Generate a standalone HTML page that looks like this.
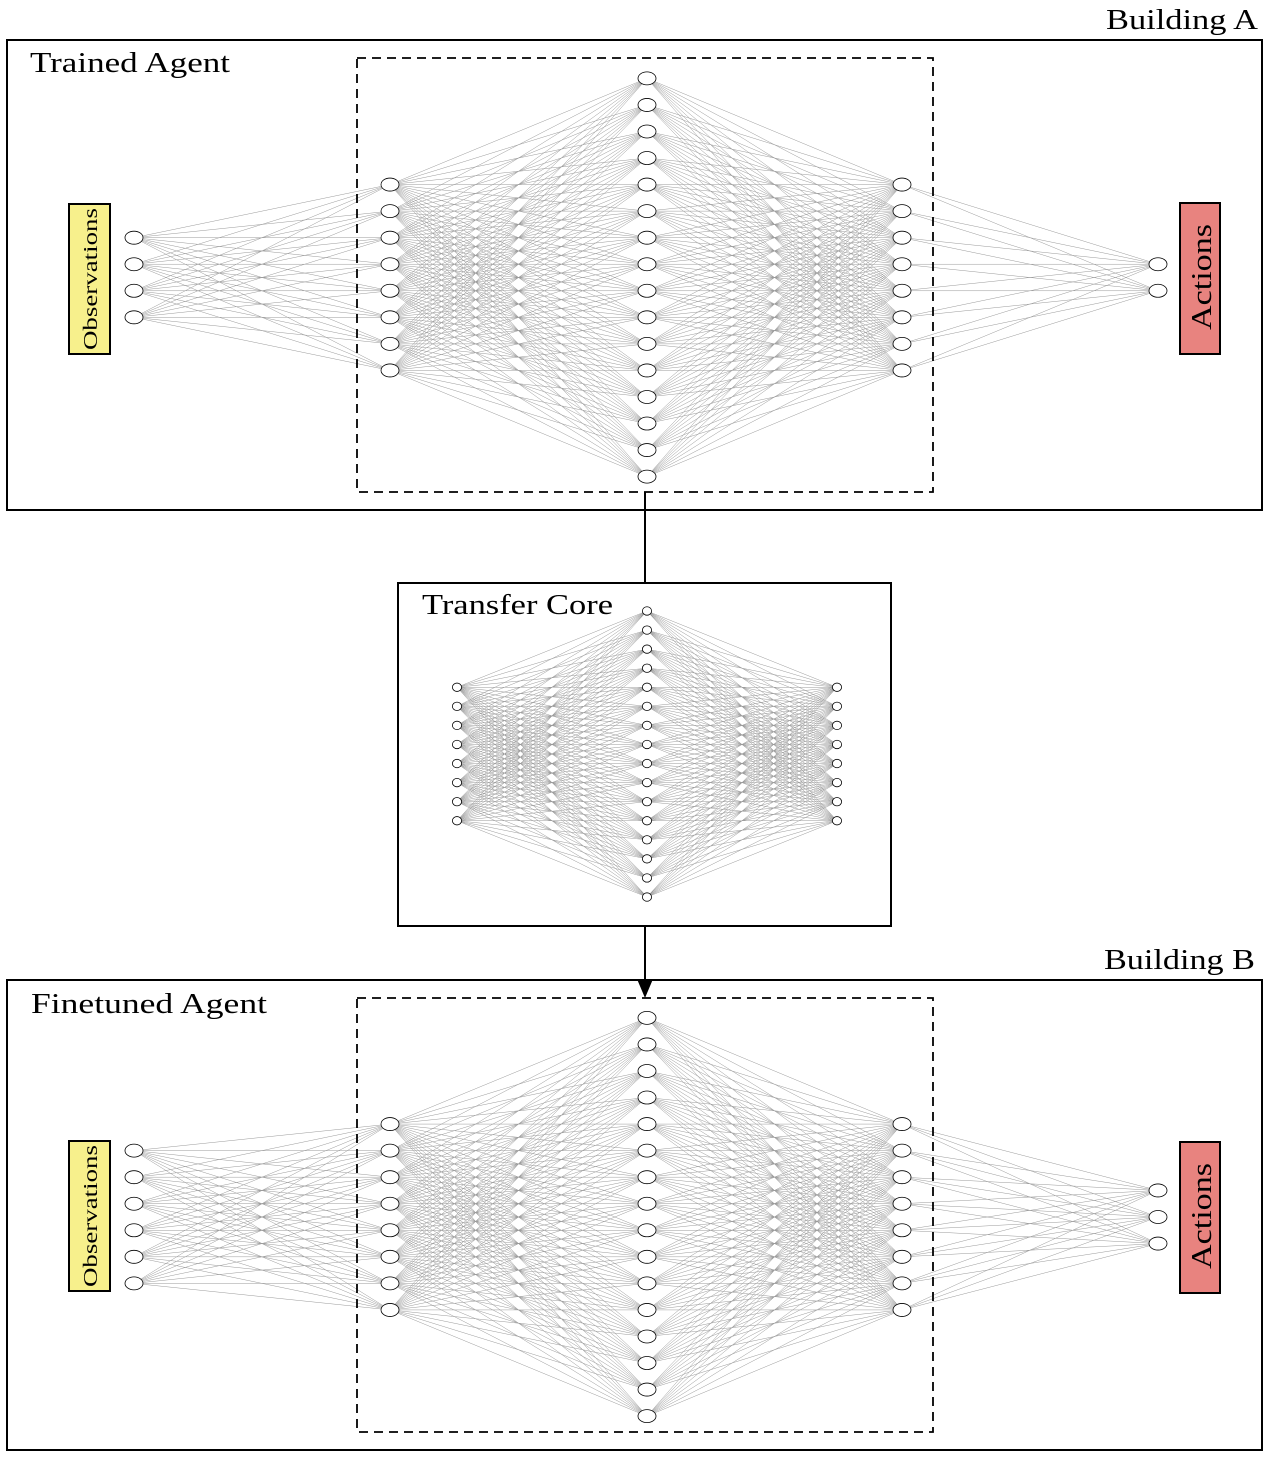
<!DOCTYPE html>
<html><head><meta charset="utf-8">
<style>
html,body{margin:0;padding:0;background:#fff;}
svg{display:block;}
text{font-family:"Liberation Serif",serif;fill:#000;}
</style></head>
<body>
<svg id="fig" width="1268" height="1458" viewBox="0 0 1268 1458" xmlns="http://www.w3.org/2000/svg">
<g id="edges"></g>
<g id="frames">
  <rect x="7" y="40" width="1255" height="470" fill="none" stroke="#000" stroke-width="2"/>
  <rect x="357" y="58" width="576" height="434" fill="none" stroke="#000" stroke-width="1.8" stroke-dasharray="9,6"/>
  <rect x="398" y="583" width="493" height="343" fill="none" stroke="#000" stroke-width="2"/>
  <rect x="7" y="980" width="1255" height="470" fill="none" stroke="#000" stroke-width="2"/>
  <rect x="357" y="998" width="576" height="434" fill="none" stroke="#000" stroke-width="1.8" stroke-dasharray="9,6"/>
  <line x1="645" y1="492" x2="645" y2="583" stroke="#000" stroke-width="2"/>
  <line x1="645" y1="926" x2="645" y2="982" stroke="#000" stroke-width="2"/>
  <polygon points="637,979 653,979 645,998" fill="#000"/>
  <rect x="69" y="204" width="41" height="150" fill="#f7f08c" stroke="#000" stroke-width="2"/>
  <rect x="1180" y="203" width="40" height="151" fill="#e8837f" stroke="#000" stroke-width="2"/>
  <rect x="69" y="1141" width="41" height="150" fill="#f7f08c" stroke="#000" stroke-width="2"/>
  <rect x="1180" y="1142" width="40" height="151" fill="#e8837f" stroke="#000" stroke-width="2"/>
</g>
<g id="nodes"></g>
<g>
  <text x="1106" y="29" font-size="28" textLength="152" lengthAdjust="spacingAndGlyphs">Building A</text>
  <text x="30" y="72" font-size="28" textLength="200" lengthAdjust="spacingAndGlyphs">Trained Agent</text>
  <text x="422" y="614" font-size="28" textLength="191" lengthAdjust="spacingAndGlyphs">Transfer Core</text>
  <text x="1104" y="969" font-size="28" textLength="151" lengthAdjust="spacingAndGlyphs">Building B</text>
  <text x="31" y="1013" font-size="28" textLength="236" lengthAdjust="spacingAndGlyphs">Finetuned Agent</text>
  <text transform="translate(97,350) rotate(-90)" font-size="20" textLength="142" lengthAdjust="spacingAndGlyphs">Observations</text>
  <text transform="translate(1211,330) rotate(-90)" font-size="29" textLength="106" lengthAdjust="spacingAndGlyphs">Actions</text>
  <text transform="translate(97,1287) rotate(-90)" font-size="20" textLength="142" lengthAdjust="spacingAndGlyphs">Observations</text>
  <text transform="translate(1211,1269) rotate(-90)" font-size="29" textLength="106" lengthAdjust="spacingAndGlyphs">Actions</text>
</g>
</svg>
<script>
// layer sizes per network
const layersA = [4, 8, 16, 8, 2];
const layersB = [6, 8, 16, 8, 3];
const layersCore = [8, 16, 8];

const NS = "http://www.w3.org/2000/svg";
const edgesG = document.getElementById('edges');
const nodesG = document.getElementById('nodes');

function drawNet(layers, xs, cy, gap, rx, ry, prefix) {
  const pos = layers.map((n, i) => {
    const arr = [];
    for (let k = 0; k < n; k++) arr.push([xs[i], cy + (k - (n - 1) / 2) * gap]);
    return arr;
  });
  for (let i = 0; i < pos.length - 1; i++) {
    for (const a of pos[i]) for (const b of pos[i + 1]) {
      const l = document.createElementNS(NS, 'line');
      l.setAttribute('x1', a[0]); l.setAttribute('y1', a[1]);
      l.setAttribute('x2', b[0]); l.setAttribute('y2', b[1]);
      l.setAttribute('stroke', '#9a9a9a');
      l.setAttribute('stroke-width', '0.5');
      
      
      edgesG.appendChild(l);
    }
  }
  pos.forEach((layer, i) => layer.forEach(p => {
    const e = document.createElementNS(NS, 'ellipse');
    e.setAttribute('cx', p[0]); e.setAttribute('cy', p[1]);
    e.setAttribute('rx', rx); e.setAttribute('ry', ry);
    e.setAttribute('fill', '#fff'); e.setAttribute('stroke', '#000');
    e.setAttribute('stroke-width', '0.8');
    
    
    nodesG.appendChild(e);
  }));
}
const xsBig = [134, 390, 647, 902, 1158];
drawNet(layersA, xsBig, 277.5, 26.55, 9, 6.5, 'agent-a');
drawNet(layersB, xsBig, 1217, 26.55, 9, 6.5, 'agent-b');
drawNet(layersCore, [457, 647, 837], 754, 19.07, 4.6, 4.2, 'core');
</script>
</body></html>
